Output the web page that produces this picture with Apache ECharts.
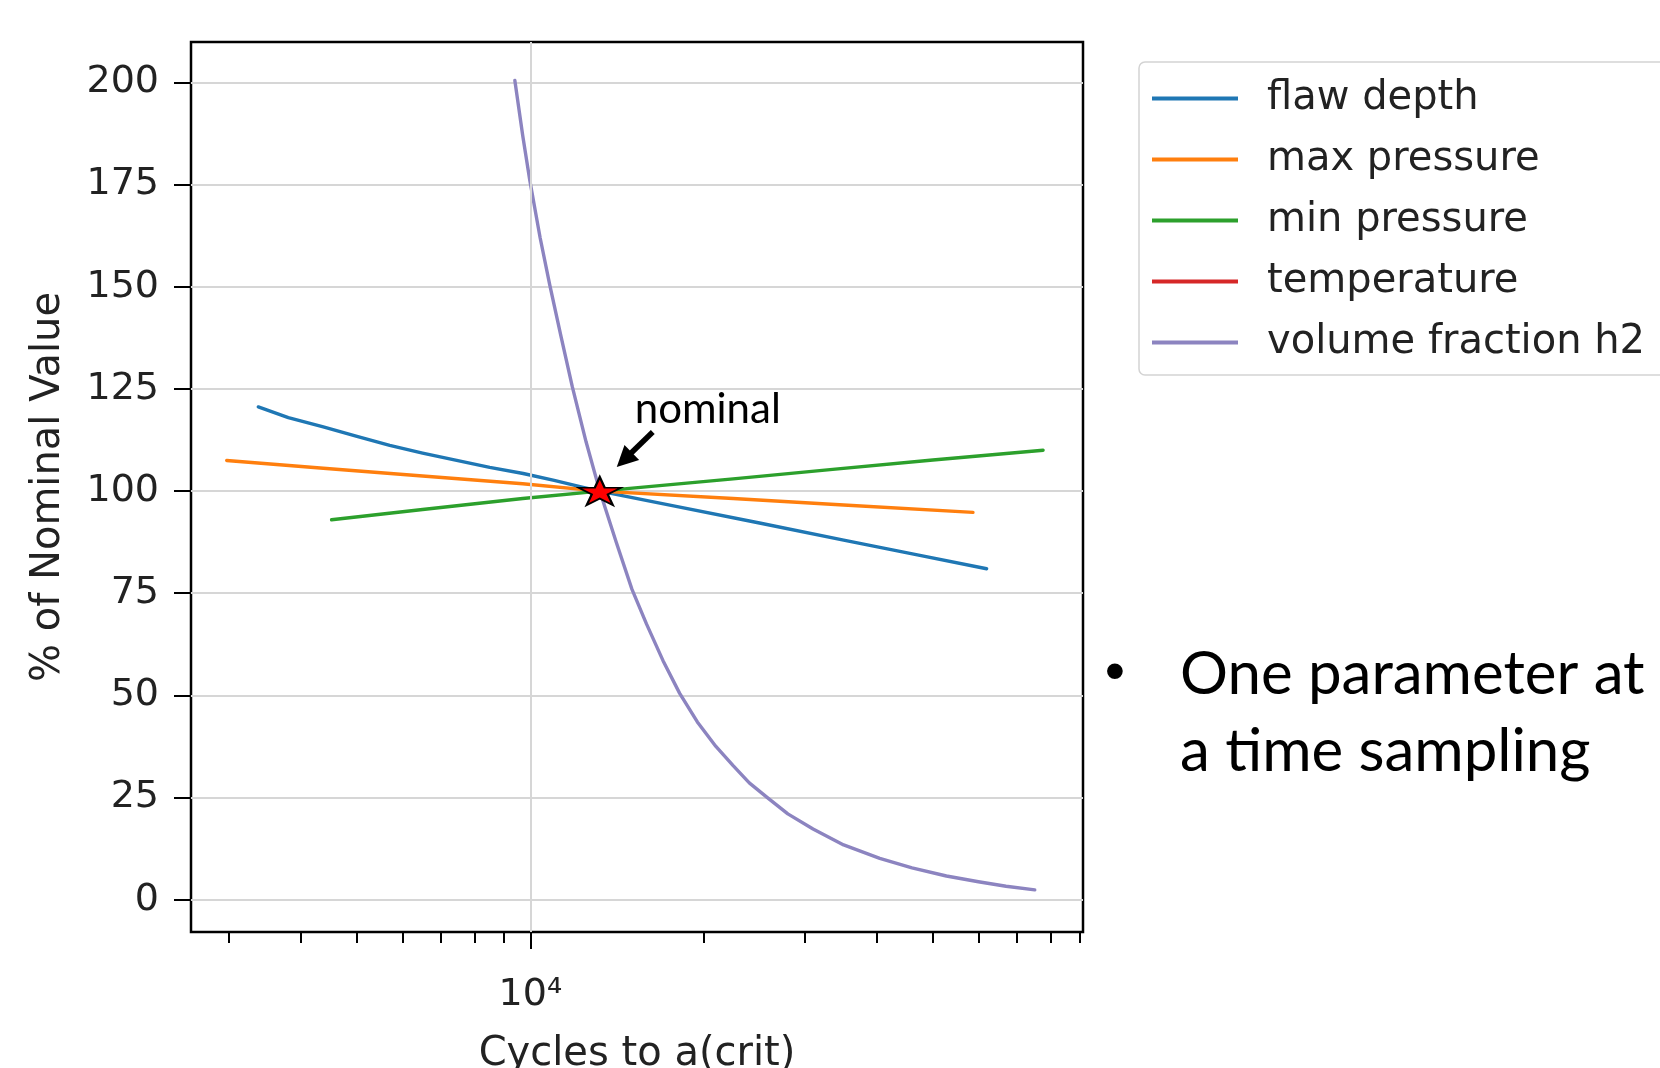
<!DOCTYPE html>
<html><head><meta charset="utf-8">
<script src="https://cdn.jsdelivr.net/npm/echarts@6/dist/echarts.min.js"></script>
<style>html,body{margin:0;padding:0;background:#fff}#c{width:1660px;height:1068px}</style>
</head><body><div id="c"></div>
<script>
// ---- data ----
const X_RANGE = [2575, 91140];
const Y_RANGE = [-7.9, 209.9];
const Y_TICKS = [0, 25, 50, 75, 100, 125, 150, 175, 200];
const X_MAJOR_TICKS = [10000];
const X_MINOR_TICKS = [3000, 4000, 5000, 6000, 7000, 8000, 9000, 20000, 30000, 40000, 50000, 60000, 70000, 80000, 90000];
const SERIES_NAMES = ['flaw depth', 'max pressure', 'min pressure', 'temperature', 'volume fraction h2'];
const SERIES_COLORS = ['#1f77b4', '#ff7f0e', '#2ca02c', '#d62728', '#8c84c0'];

const flawDepth = [[3370,120.6],[3800,118.0],[4370,115.7],[5000,113.4],[5700,111.2],[6500,109.3],[7450,107.5],[8500,105.8],[9720,104.3],[11000,102.6],[12350,100.9],[13200,100],[18000,96.2],[25000,92.2],[35000,88.0],[47000,84.4],[62000,81.0]];
const maxPressure = [[2970,107.5],[4370,105.6],[6500,103.7],[9700,101.8],[13200,100],[22500,98.2],[35000,96.6],[58700,94.8]];
const minPressure = [[4517,93.0],[6500,95.5],[9700,98.2],[13200,100],[22500,103.0],[33500,105.3],[50000,107.6],[77700,110.0]];
const temperature = [];
const volumeFractionH2 = [[9400,200.5],[9700,187],[9980,176],[10400,162],[10810,150.4],[11300,138],[11830,125.5],[12500,112],[13200,100],[14100,87.5],[15010,76],[15910,67.5],[17000,58.5],[18170,50.5],[19500,43.5],[21000,37.5],[22500,32.8],[24000,28.6],[25800,25.0],[28000,21.0],[30970,17.3],[35000,13.4],[40440,10.1],[46000,7.8],[52790,5.8],[60000,4.4],[67000,3.3],[75150,2.4]];
const nominal = [[13200, 100]];
const X_LABEL_TEXT = { 10000: '10\u2074' };

// ---- chart ----
const FONT = 'DejaVu Sans';
const chart = echarts.init(document.getElementById('c'), null, { renderer: 'canvas' });
const STAR = 'path://M100,0 L122.45,69.1 L195.1,69.1 L136.33,111.8 L158.8,180.9 L100,138.2 L41.2,180.9 L63.67,111.8 L4.9,69.1 L77.55,69.1 Z';

const seriesData = [flawDepth, maxPressure, minPressure, temperature, volumeFractionH2];
const lineSeries = SERIES_NAMES.map((n, i) => ({
  name: n, type: 'line', data: seriesData[i], symbol: 'none', showSymbol: false,
  xAxisIndex: 0, yAxisIndex: 0, smooth: false,
  lineStyle: { width: 3.4, color: SERIES_COLORS[i], join: 'round', cap: 'round' }, itemStyle: { color: SERIES_COLORS[i] },
  emphasis: { disabled: true }, silent: true, z: 3
}));

const option = {
  animation: false,
  backgroundColor: '#fff',
  color: SERIES_COLORS,
  grid: { left: 191, right: 577, top: 42, bottom: 136, show: true, borderColor: '#000', borderWidth: 2.5,
    backgroundColor: 'transparent', containLabel: false, outerBoundsMode: 'none' },
  legend: {
    orient: 'vertical', left: 1139, top: 62,
    padding: [14, 40, 10, 13], itemGap: 16, itemWidth: 86, itemHeight: 4, icon: 'rect',
    backgroundColor: '#fff', borderColor: '#d3d3d3', borderWidth: 1.5, borderRadius: 6,
    textStyle: { fontFamily: FONT, fontSize: 40, color: '#222', lineHeight: 45, padding: [0, 0, 0, 24] },
    data: SERIES_NAMES, selectedMode: false
  },
  xAxis: [
    {
      type: 'log', min: X_RANGE[0], max: X_RANGE[1], position: 'bottom',
      name: 'Cycles to a(crit)', nameLocation: 'middle', nameGap: 103,
      nameTextStyle: { fontFamily: FONT, fontSize: 40, color: '#222' },
      axisLine: { show: false, onZero: false },
      axisTick: { show: true, customValues: X_MAJOR_TICKS, length: 17, lineStyle: { color: '#000', width: 2 } },
      axisLabel: { show: true, customValues: X_MAJOR_TICKS, margin: 44, fontFamily: FONT, fontSize: 38, color: '#222',
        formatter: v => X_LABEL_TEXT[Math.round(v)] || '' },
      splitLine: { show: true, lineStyle: { color: '#d6d6d6', width: 2 } },
      minorTick: { show: false }, minorSplitLine: { show: false }, z: 5
    },
    {
      type: 'log', min: X_RANGE[0], max: X_RANGE[1], position: 'bottom', offset: 0,
      axisLine: { show: false, onZero: false },
      axisTick: { show: true, customValues: X_MINOR_TICKS, length: 11, lineStyle: { color: '#000', width: 2 } },
      axisLabel: { show: false },
      splitLine: { show: false }
    }
  ],
  yAxis: {
    type: 'value', min: Y_RANGE[0], max: Y_RANGE[1],
    name: '% of Nominal Value', nameLocation: 'middle', nameGap: 122, nameRotate: 90,
    nameTextStyle: { fontFamily: FONT, fontSize: 40, color: '#222' },
    axisLine: { show: false, onZero: false },
    axisTick: { show: true, customValues: Y_TICKS, length: 17, lineStyle: { color: '#000', width: 2 } },
    axisLabel: { show: true, customValues: Y_TICKS, margin: 32, fontFamily: FONT, fontSize: 38, color: '#222' },
    splitLine: { show: true, lineStyle: { color: '#d6d6d6', width: 2 } }
  },
  series: lineSeries.concat([{
    name: 'nominal', type: 'scatter', data: nominal, xAxisIndex: 0, yAxisIndex: 0,
    symbol: STAR, symbolSize: [42, 28], clip: false, silent: true, z: 10,
    itemStyle: { color: '#ff0000', borderColor: '#000', borderWidth: 2, opacity: 1 },
    emphasis: { disabled: true },
    label: { show: true, position: 'inside', offset: [108, -82], formatter: 'nominal',
      fontFamily: 'Lato', fontSize: 42, color: '#000' }
  }]),
  graphic: []
};
chart.setOption(option);

// arrow pointing at the nominal marker, positioned from the axes' own scale
const p = chart.convertToPixel({ xAxisIndex: 0, yAxisIndex: 0 }, nominal[0]);
const tail = [p[0] + 53, p[1] - 59];
const tip = [p[0] + 17, p[1] - 24];
const dx = tip[0] - tail[0], dy = tip[1] - tail[1];
const L = Math.sqrt(dx * dx + dy * dy);
const ux = dx / L, uy = dy / L, nx = -uy, ny = ux;
const headLen = 21, headHalf = 10.5;
const base = [tip[0] - ux * headLen, tip[1] - uy * headLen];

chart.setOption({
  graphic: [
    { id: 'shaft', type: 'line', shape: { x1: tail[0], y1: tail[1], x2: base[0] + ux * 2, y2: base[1] + uy * 2 },
      style: { stroke: '#000', lineWidth: 5.5 }, z: 20, silent: true },
    { id: 'head', type: 'polygon', shape: { points: [tip, [base[0] + nx * headHalf, base[1] + ny * headHalf], [base[0] - nx * headHalf, base[1] - ny * headHalf]] },
      style: { fill: '#000' }, z: 20, silent: true },
    { id: 'bullet', type: 'text', x: 1115, y: 674, z: 20, silent: true,
      style: { text: '\u2022', font: '58px "Liberation Sans"', fill: '#000', align: 'center', verticalAlign: 'middle' } },
    { id: 't1', type: 'text', x: 1180, y: 675, z: 20, silent: true,
      style: { text: 'One parameter at', font: '60px Lato', fill: '#000', verticalAlign: 'middle', align: 'left' } },
    { id: 't2', type: 'text', x: 1180, y: 752, z: 20, silent: true,
      style: { text: 'a time sampling', font: '60px Lato', fill: '#000', verticalAlign: 'middle', align: 'left' } }
  ]
});
</script>
</body></html>
